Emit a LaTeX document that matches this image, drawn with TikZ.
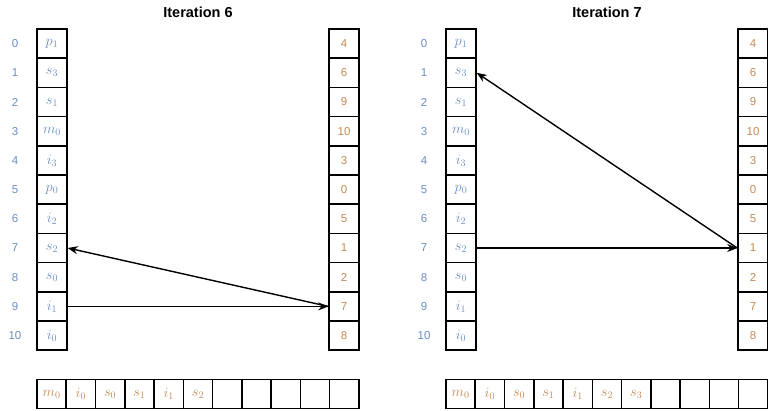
\documentclass[tikz,border=0pt]{standalone}
\usepackage{fontspec}
\setmainfont{Liberation Sans}
\usetikzlibrary{arrows.meta}
\definecolor{idxblue}{RGB}{108,142,191}
\definecolor{valorange}{RGB}{196,138,84}

\begin{document}
\begin{tikzpicture}[x=1pt,y=-1pt,
    cell/.style={draw,line width=1.5pt,minimum width=30pt,minimum height=29.2pt,inner sep=0pt,font=\fontsize{14.5}{16}\selectfont},
    outcell/.style={cell,minimum width=29.27pt,text=valorange},
    idx/.style={text=idxblue,font=\fontsize{11.5}{13}\selectfont},
    heading/.style={font=\bfseries\fontsize{14.5}{17}\selectfont},
    link/.style={line width=1.4pt,-{Stealth[length=10pt,width=8pt]}}]
  \useasboundingbox (0,0) rectangle (768,410);
  % two iterations side by side
  \foreach \p/\dx in {6/0,7/409} {
    \node[heading] (title\p) at (198+\dx,12) {Iteration \p};
    \foreach \k/\v [count=\i from 0] in {p_1/4,s_3/6,s_1/9,m_0/10,i_3/3,p_0/0,i_2/5,s_2/1,s_0/2,i_1/7,i_0/8} {
      \node[idx] (idx\p-\i) at (15+\dx,{43.6+29.2*\i}) {\i};
      \node[cell,text=idxblue] (key\p-\i) at (52+\dx,{43.6+29.2*\i}) {$\k$};
      \node[cell,text=valorange,font=\fontsize{11.5}{13}\selectfont] (val\p-\i) at (344+\dx,{43.6+29.2*\i}) {\v};
    }
  }
  % output rows
  \foreach \t [count=\i from 0] in {m_0,i_0,s_0,s_1,i_1,s_2,{},{},{},{},{}}
    \node[outcell] (out6-\i) at ({51.6+29.27*\i},394) {$\t$};
  \foreach \t [count=\i from 0] in {m_0,i_0,s_0,s_1,i_1,s_2,s_3,{},{},{},{}}
    \node[outcell] (out7-\i) at ({460.6+29.27*\i},394) {$\t$};
  % pointers
  \draw[link] (key6-9.east) -- (val6-9.west);
  \draw[link] (val6-9.west) -- (key6-7.east);
  \draw[link] (key7-7.east) -- (val7-7.west);
  \draw[link] (val7-7.west) -- (key7-1.east);
\end{tikzpicture}
\end{document}
